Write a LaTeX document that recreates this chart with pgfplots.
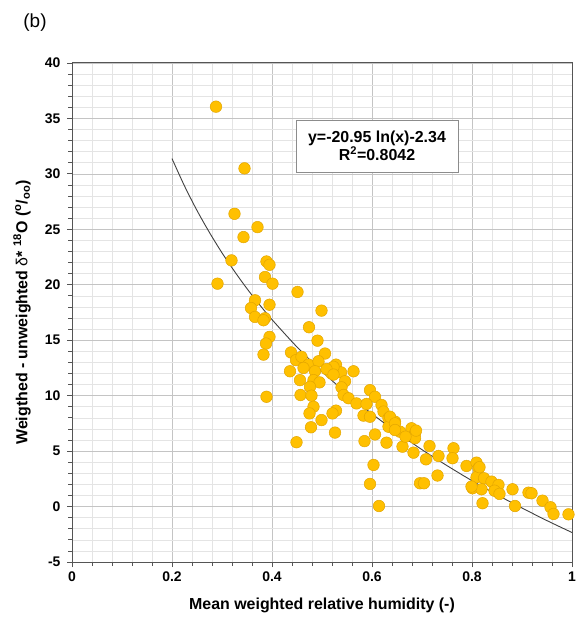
\documentclass[border=0pt]{standalone}
\usepackage{fontspec}
\setmainfont{Liberation Sans}
\usepackage{pgfplots}
\pgfplotsset{compat=1.18}
\definecolor{dotfill}{HTML}{FFC000}
\definecolor{dotedge}{HTML}{E3A600}
\definecolor{majgrid}{HTML}{C4C4C4}
\definecolor{mingrid}{HTML}{E4E4E4}
\definecolor{axcol}{HTML}{555555}
\begin{document}
\begin{tikzpicture}
\useasboundingbox (-72bp,-57bp) rectangle (504bp,562bp);
\begin{axis}[
  scale only axis, width=500bp, height=499bp,
  xmin=0, xmax=1, ymin=-5, ymax=40,
  xtick={0,0.2,0.4,0.6,0.8,1}, ytick={-5,0,5,10,15,20,25,30,35,40},
  minor x tick num=4, minor y tick num=4,
  grid=both,
  major grid style={draw=majgrid, line width=0.6bp},
  minor grid style={draw=mingrid, line width=0.6bp},
  axis line style={draw=axcol, line width=1bp},
  tick style={draw=axcol, line width=0.8bp},
  tick align=outside, major tick length=5bp, minor tick length=4bp,
  xtick pos=bottom, ytick pos=left,
  /pgf/number format/assume math mode=true,
  ticklabel style={font=\fontsize{14}{16}\selectfont\bfseries},
  xticklabel style={yshift=-1bp},
  yticklabel style={xshift=-3bp},
  xlabel={Mean weighted relative humidity (-)},
  ylabel={Weigthed - unweighted {\mdseries δ}* \textsuperscript{18}O (\textsuperscript{o}/\textsubscript{oo})},
  label style={font=\fontsize{16}{18}\selectfont\bfseries},
  xlabel style={at={(axis description cs:0.5,-0.086)}, anchor=center},
  ylabel style={at={(axis description cs:-0.1,0.5)}, anchor=center},
]
\addplot[smooth, draw=black!75, line width=0.9bp] coordinates {
(0.2,31.38) (0.225,28.91) (0.25,26.70) (0.275,24.71) (0.3,22.88) (0.325,21.21)
(0.35,19.65) (0.375,18.21) (0.4,16.86) (0.45,14.39) (0.5,12.18) (0.55,10.18)
(0.6,8.36) (0.65,6.69) (0.7,5.13) (0.75,3.69) (0.8,2.33) (0.85,1.06)
(0.9,-0.13) (0.95,-1.27) (1.0,-2.34)};
\addplot[only marks, mark=*, mark size=5.8bp, mark options={fill=dotfill, draw=dotedge, line width=0.5bp}] table {
x y
0.288 36.06
0.345 30.5
0.325 26.4
0.371 25.2
0.343 24.3
0.319 22.2
0.389 22.1
0.395 21.8
0.291 20.1
0.386 20.7
0.401 20.1
0.451 19.35
0.395 18.2
0.366 18.6
0.358 17.9
0.366 17.1
0.386 16.98
0.383 16.8
0.499 17.67
0.474 16.17
0.395 15.3
0.491 14.96
0.388 14.7
0.383 13.7
0.438 13.9
0.506 13.8
0.448 13.2
0.459 13.5
0.473 12.8
0.493 13.1
0.528 12.8
0.436 12.2
0.463 12.5
0.486 12.2
0.519 12.0
0.538 12.1
0.563 12.2
0.456 11.4
0.483 11.4
0.495 11.2
0.546 11.3
0.476 10.8
0.539 10.75
0.596 10.5
0.389 9.9
0.457 10.06
0.479 10.0
0.543 10.06
0.553 9.77
0.606 9.9
0.569 9.3
0.589 9.25
0.483 9.0
0.619 9.16
0.475 8.4
0.528 8.65
0.521 8.4
0.583 8.2
0.596 8.1
0.623 8.56
0.633 7.96
0.646 7.66
0.499 7.8
0.478 7.15
0.633 7.2
0.656 6.75
0.679 7.06
0.686 6.6
0.526 6.67
0.606 6.5
0.686 6.16
0.449 5.8
0.585 5.9
0.629 5.76
0.661 5.4
0.683 4.86
0.715 5.46
0.733 4.56
0.708 4.26
0.763 5.26
0.761 4.36
0.603 3.75
0.731 2.8
0.696 2.1
0.704 2.1
0.596 2.04
0.614 0.05
0.789 3.66
0.809 3.96
0.813 3.45
0.809 2.64
0.824 2.55
0.839 2.25
0.853 1.95
0.801 1.65
0.819 1.56
0.845 1.43
0.855 1.14
0.821 0.3
0.881 1.56
0.886 0.05
0.913 1.25
0.919 1.2
0.941 0.53
0.957 -0.06
0.963 -0.67
0.993 -0.7
0.523 12.6
0.509 12.4
0.523 11.9
0.636 8.1
0.646 7.5
0.646 6.9
0.688 6.85
0.667 6.3
0.815 3.55
0.799 1.8
};
\node[draw=black!45, line width=1bp, fill=white, align=center, inner sep=0pt,
  minimum width=162bp, minimum height=52bp,
  font=\fontsize{16}{18}\selectfont\bfseries] at (axis cs:0.61,32.5)
  {y=-20.95 ln(x)-2.34\\R\textsuperscript{2}=0.8042};
\end{axis}
\node[font=\fontsize{19}{22}\selectfont] at (-37bp,539bp) {(b)};
\end{tikzpicture}
\end{document}
